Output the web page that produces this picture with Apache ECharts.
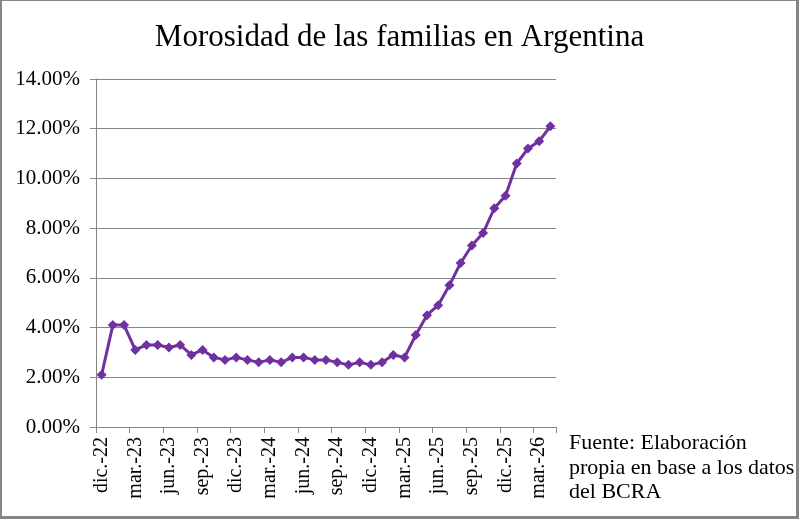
<!DOCTYPE html>
<html>
<head>
<meta charset="utf-8">
<script src="https://cdn.jsdelivr.net/npm/echarts@6/dist/echarts.min.js"></script>
<style>
  html, body { margin: 0; padding: 0; background: #fff; }
  #wrap { position: relative; width: 799px; height: 519px; }
  #chart { width: 799px; height: 519px; }
  #frame {
    position: absolute; left: 0; top: 0; right: 0; bottom: 0;
    box-sizing: border-box; pointer-events: none;
    border-style: solid; border-color: #868686;
    border-width: 1px 3px 3px 2px;
  }
</style>
</head>
<body>
<div id="wrap">
  <div id="chart"></div>
  <div id="frame"></div>
</div>
<script>
  const titleText = "Morosidad de las familias en Argentina";
  const sourceLines = ["Fuente: Elaboración", "propia en base a los datos", "del BCRA"];

  const months = [
    "dic.-22",
    "ene.-23", "feb.-23", "mar.-23", "abr.-23", "may.-23", "jun.-23",
    "jul.-23", "ago.-23", "sep.-23", "oct.-23", "nov.-23", "dic.-23",
    "ene.-24", "feb.-24", "mar.-24", "abr.-24", "may.-24", "jun.-24",
    "jul.-24", "ago.-24", "sep.-24", "oct.-24", "nov.-24", "dic.-24",
    "ene.-25", "feb.-25", "mar.-25", "abr.-25", "may.-25", "jun.-25",
    "jul.-25", "ago.-25", "sep.-25", "oct.-25", "nov.-25", "dic.-25",
    "ene.-26", "feb.-26", "mar.-26", "abr.-26"
  ];

  // morosidad, en %
  const morosidad = [
    2.1, 4.1, 4.1, 3.1, 3.3, 3.3, 3.2, 3.3, 2.9, 3.1,
    2.8, 2.7, 2.8, 2.7, 2.6, 2.7, 2.6, 2.8, 2.8, 2.7,
    2.7, 2.6, 2.5, 2.6, 2.5, 2.6, 2.9, 2.8, 3.7, 4.5,
    4.9, 5.7, 6.6, 7.3, 7.8, 8.8, 9.3, 10.6, 11.2, 11.5, 12.1
  ];

  const serif = "'Liberation Serif', 'Times New Roman', serif";
  const grey = "#868686";

  const chart = echarts.init(document.getElementById("chart"), null, { renderer: "canvas" });
  chart.setOption({
    animation: false,
    backgroundColor: "#fff",
    title: {
      text: titleText,
      left: "center",
      top: 17,
      textStyle: { fontFamily: serif, fontSize: 31, fontWeight: "normal", color: "#000" }
    },
    grid: { left: 96, right: 243, top: 79, bottom: 92 },
    xAxis: {
      type: "category",
      data: months,
      boundaryGap: true,
      axisLine: { lineStyle: { color: grey, width: 1 } },
      axisTick: { show: true, interval: 2, length: 6, lineStyle: { color: grey } },
      axisLabel: {
        interval: 2,
        rotate: 90,
        margin: 10,
        fontFamily: serif,
        fontSize: 20,
        color: "#000"
      }
    },
    yAxis: {
      type: "value",
      min: 0,
      max: 14,
      interval: 2,
      axisLine: { show: true, lineStyle: { color: grey, width: 1 } },
      axisTick: { show: true, length: 6, lineStyle: { color: grey } },
      splitLine: { lineStyle: { color: grey, width: 1 } },
      axisLabel: {
        margin: 16,
        fontFamily: serif,
        fontSize: 21,
        color: "#000",
        formatter: (v) => v.toFixed(2) + "%"
      }
    },
    series: [
      {
        type: "line",
        data: morosidad,
        symbol: "diamond",
        symbolSize: 10,
        showAllSymbol: true,
        lineStyle: { color: "#7030A0", width: 3 },
        itemStyle: { color: "#7030A0" }
      }
    ],
    graphic: [
      {
        type: "text",
        left: 569,
        top: 431,
        style: {
          text: sourceLines.join("\n"),
          font: "22px " + serif,
          lineHeight: 24.5,
          fill: "#000"
        }
      }
    ]
  });
</script>
</body>
</html>
